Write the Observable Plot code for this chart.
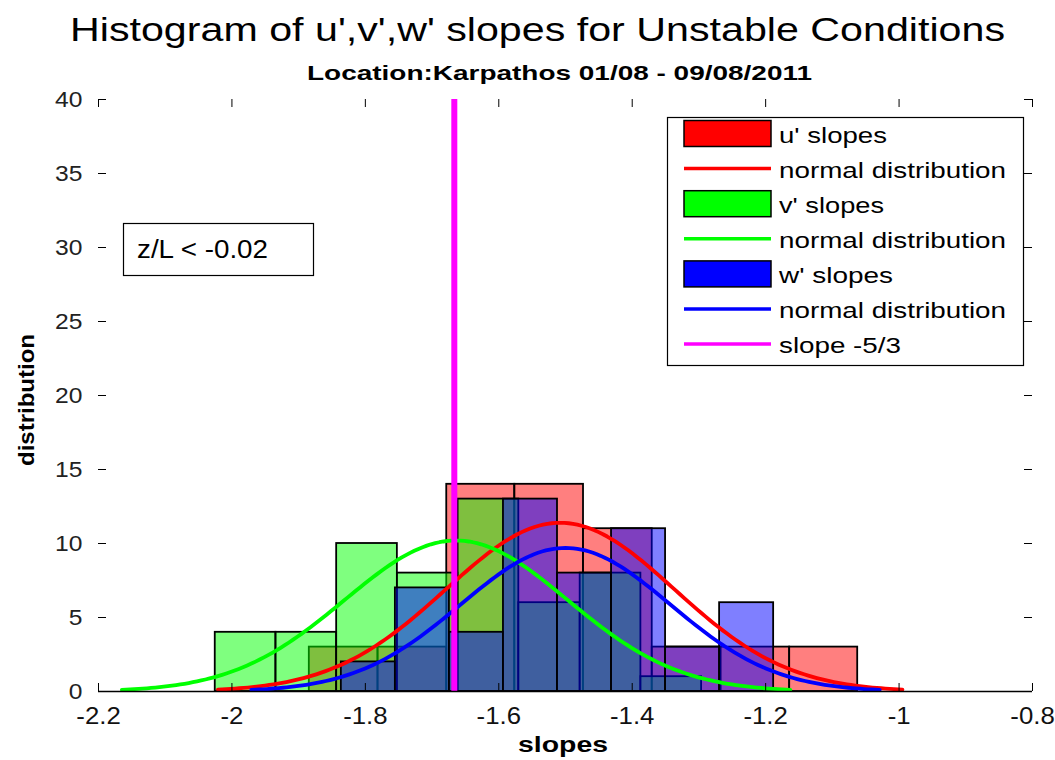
<!DOCTYPE html>
<html>
<head>
<meta charset="utf-8">
<script src="https://cdn.jsdelivr.net/npm/d3@7"></script>
<script src="https://cdn.jsdelivr.net/npm/@observablehq/plot@0.6"></script>
<style>
  html, body { margin: 0; padding: 0; background: #fff; }
  #wrap { position: relative; width: 1055px; height: 760px; overflow: hidden; }
  #wrap > svg { position: absolute; left: 0; top: 0; }
</style>
</head>
<body>
<div id="wrap"></div>
<script>
// ---- Histogram bins (edges) and counts for each velocity component ----
const uEdges  = [-1.884, -1.781, -1.678, -1.576, -1.473, -1.370, -1.267, -1.164, -1.062];
const uCounts = [3, 3, 14, 14, 11, 3, 3, 3];

const vEdges  = [-2.025, -1.934, -1.843, -1.752, -1.661, -1.570, -1.478, -1.387, -1.296];
const vCounts = [4, 4, 10, 8, 13, 6, 8, 1];

const wEdges  = [-1.836, -1.755, -1.674, -1.593, -1.512, -1.431, -1.350, -1.269, -1.188];
const wCounts = [2, 7, 4, 13, 8, 11, 3, 6];

// ---- Fitted normal distributions (mean, standard deviation, peak height) ----
const seriesNames = ["u'", "v'", "w'"];
const fitMean = [-1.508, -1.664, -1.500];
const fitStd  = [0.171, 0.167, 0.157];
const fitPeak = [11.4, 10.2, 9.7];

const seriesColors = ["#ff0000", "#00ff00", "#0000ff"];

// Kolmogorov reference slope
const refSlope = -5 / 3;

// ---- Axes ----
const xTicks = [-2.2, -2.0, -1.8, -1.6, -1.4, -1.2, -1.0, -0.8];
const xTickLabels = ["-2.2", "-2", "-1.8", "-1.6", "-1.4", "-1.2", "-1", "-0.8"];
const yTicks = [0, 5, 10, 15, 20, 25, 30, 35, 40];
const yTickLabels = ["0", "5", "10", "15", "20", "25", "30", "35", "40"];

const titleText = "Histogram of u',v',w' slopes for Unstable Conditions";
const subtitleText = "Location:Karpathos 01/08 - 09/08/2011";
const xLabel = "slopes";
const yLabel = "distribution";
const noteText = "z/L < -0.02";
const legendLabels = ["u' slopes", "normal distribution", "v' slopes", "normal distribution",
                      "w' slopes", "normal distribution", "slope -5/3"];

// ---- Build tables ----
function binsOf(edges, counts, s) {
  return counts.map((c, i) => ({series: s, x1: edges[i], x2: edges[i + 1], count: c}));
}
const uBins = binsOf(uEdges, uCounts, 0);
const vBins = binsOf(vEdges, vCounts, 1);
const wBins = binsOf(wEdges, wCounts, 2);

// normal curve drawn over mean ± 3 sd
const curves = seriesNames.map((name, s) => {
  const pts = [];
  const n = 160;
  for (let k = 0; k <= n; k++) {
    const x = fitMean[s] - 3 * fitStd[s] + (6 * fitStd[s]) * k / n;
    const z = (x - fitMean[s]) / fitStd[s];
    pts.push({series: s, x, y: fitPeak[s] * Math.exp(-0.5 * z * z)});
  }
  return pts;
});

const W = 1055, H = 760;
const mL = 98, mR = 23, mT = 99, mB = 69;
const fw = W - mL - mR, fh = H - mT - mB;
const tickLen = 8;
const font = "'Liberation Sans', Arial, Helvetica, sans-serif";

const chart = Plot.plot({
  width: W, height: H,
  marginLeft: mL, marginRight: mR, marginTop: mT, marginBottom: mB,
  style: {fontFamily: font, fontSize: "21px", color: "#000", background: "transparent", overflow: "visible"},
  x: {domain: [-2.2, -0.8], ticks: xTicks, tickFormat: d => xTickLabels[xTicks.indexOf(d)],
      tickSize: 0, tickPadding: 16, label: null},
  y: {domain: [0, 40], ticks: yTicks, tickFormat: d => yTickLabels[yTicks.indexOf(d)],
      tickSize: 0, tickPadding: 16, label: null},
  marks: [
    Plot.rectY(uBins, {x1: "x1", x2: "x2", y: "count", fill: seriesColors[0], fillOpacity: 0.5, stroke: "#000", strokeWidth: 1.8}),
    Plot.rectY(vBins, {x1: "x1", x2: "x2", y: "count", fill: seriesColors[1], fillOpacity: 0.5, stroke: "#000", strokeWidth: 1.8}),
    Plot.rectY(wBins, {x1: "x1", x2: "x2", y: "count", fill: seriesColors[2], fillOpacity: 0.5, stroke: "#000", strokeWidth: 1.8}),
    ...curves.map((pts, s) => Plot.line(pts, {x: "x", y: "y", stroke: seriesColors[s], strokeWidth: 3.8})),
    Plot.ruleX([refSlope], {y1: 0, y2: 40, stroke: "#ff00ff", strokeWidth: 6}),
    Plot.ruleY([0], {stroke: "#000", strokeWidth: 1.5}),
    // inward tick marks on all four sides
    Plot.tickX(xTicks, {x: d => d, insetTop: fh - tickLen, stroke: "#000"}),
    Plot.tickX(xTicks, {x: d => d, insetBottom: fh - tickLen, stroke: "#000"}),
    Plot.tickY(yTicks, {y: d => d, insetRight: fw - tickLen, stroke: "#000"}),
    Plot.tickY(yTicks, {y: d => d, insetLeft: fw - tickLen, stroke: "#000"})
  ]
});

const wrap = document.getElementById("wrap");
wrap.appendChild(chart);

// tick label sizing: slightly wide lettering
function styleTickLabels(selector, size, stretch, fill) {
  const g = d3.select(chart).selectAll(selector);
  g.attr("font-size", size).attr("fill", fill);
  g.selectAll("text").each(function () {
    const w = this.getComputedTextLength();
    if (w > 0) {
      this.setAttribute("textLength", (w * stretch).toFixed(1));
      this.setAttribute("lengthAdjust", "spacingAndGlyphs");
    }
  });
}
styleTickLabels('g[aria-label="x-axis tick label"]', 23, 1.12, "#111");
styleTickLabels('g[aria-label="y-axis tick label"]', 22, 1.12, "#222");

// ---- Titles, axis labels, legend and note ----
const svg = d3.select(wrap).append("svg")
  .attr("width", W).attr("height", H)
  .style("font-family", font);

function label(sel, txt, x, y, size, weight, len, anchor) {
  const t = sel.append("text")
    .attr("x", x).attr("y", y)
    .attr("font-size", size)
    .attr("font-weight", weight || "normal")
    .attr("text-anchor", anchor || "start")
    .attr("fill", "#000")
    .text(txt);
  if (len) t.attr("textLength", len).attr("lengthAdjust", "spacingAndGlyphs");
  return t;
}

label(svg, titleText, 70, 41, 33, "normal", 935);
label(svg, subtitleText, 307, 80, 21, "bold", 505);
label(svg, xLabel, 518, 752, 22, "bold", 90);
label(svg.append("g").attr("transform", "translate(34,466) rotate(-90)"), yLabel, 0, 0, 22, "bold", 132);

// note box
svg.append("rect").attr("x", 123.5).attr("y", 223.5).attr("width", 190).attr("height", 52)
  .attr("fill", "#fff").attr("stroke", "#000").attr("stroke-width", 1.2);
label(svg, noteText, 137, 258, 25, "normal", 131);

// legend
const lg = svg.append("g");
lg.append("rect").attr("x", 667.5).attr("y", 117.5).attr("width", 356).attr("height", 248)
  .attr("fill", "#fff").attr("stroke", "#000").attr("stroke-width", 1.2);
const legendKinds = ["patch", "line", "patch", "line", "patch", "line", "line"];
const legendColors = ["#ff0000", "#ff0000", "#00ff00", "#00ff00", "#0000ff", "#0000ff", "#ff00ff"];
const legendLens = [108, 227, 105, 227, 114, 227, 122];
legendLabels.forEach((txt, i) => {
  const cy = 133.5 + 35.1 * i;
  if (legendKinds[i] === "patch") {
    lg.append("rect").attr("x", 684).attr("y", cy - 13).attr("width", 87).attr("height", 26)
      .attr("fill", legendColors[i]).attr("stroke", "#000").attr("stroke-width", 1.5);
  } else {
    lg.append("line").attr("x1", 684).attr("x2", 771).attr("y1", cy).attr("y2", cy)
      .attr("stroke", legendColors[i]).attr("stroke-width", 3.5);
  }
  label(lg, txt, 779, cy + 9, 22, "normal", legendLens[i]);
});
</script>
</body>
</html>
